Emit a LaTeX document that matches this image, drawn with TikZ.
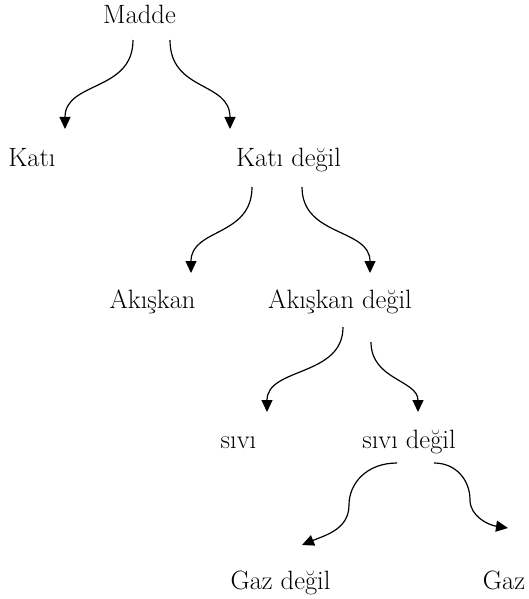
\documentclass[tikz,border=0pt]{standalone}
\usepackage{fontspec}
\usetikzlibrary{arrows.meta,calc}
\begin{document}
\begin{tikzpicture}[x=1pt,y=-1pt,
  lbl/.style={anchor=base,inner sep=0pt,font=\fontsize{26.5}{30}\selectfont},
  conn/.style={line width=1.2pt,-{Triangle[length=12pt,width=11pt]}}]
\useasboundingbox (0,0) rectangle (529,599);
\node[lbl] (madde) at (139.5,23.5) {Madde};
\node[lbl] (kati) at (32,166) {Katı};
\node[lbl] (katid) at (288.5,166) {Katı değil};
\node[lbl] (ak) at (152.5,308) {Akışkan};
\node[lbl] (akd) at (340,308) {Akışkan değil};
\node[lbl] (sivi) at (238.5,448) {sıvı};
\node[lbl] (sivid) at (409,448) {sıvı değil};
\node[lbl] (gazd) at (280.5,589) {Gaz değil};
\node[lbl] (gaz) at (504,589) {Gaz};
% Madde
\draw[conn] ($(madde.base)+(-6.5,16.5)$) .. controls +(0,52) and +(0,-48) .. ($(kati.base)+(33,-37)$);
\draw[conn] ($(madde.base)+(30.5,16.5)$) .. controls +(0,52) and +(0,-48) .. ($(katid.base)+(-58.5,-37)$);
% Kati degil
\draw[conn] ($(katid.base)+(-36.5,21)$) .. controls +(0,50) and +(0,-45) .. ($(ak.base)+(38.5,-35)$);
\draw[conn] ($(katid.base)+(13.5,21)$) .. controls +(0,50) and +(0,-45) .. ($(akd.base)+(30,-35)$);
% Akiskan degil
\draw[conn] ($(akd.base)+(3,19)$) .. controls +(0,50) and +(0,-45) .. ($(sivi.base)+(28.5,-36)$);
\draw[conn] ($(akd.base)+(31,34)$) .. controls +(0,38) and +(0,-32) .. ($(sivid.base)+(9,-36)$);
% sivi degil
\draw[conn] ($(sivid.base)+(-12,15)$) .. controls +(-30,0) and +(0,-22) .. (349,505)
   .. controls +(0,24) and +(24,-10) .. ($(gazd.base)+(21.5,-44)$);
\draw[conn] ($(sivid.base)+(25,15)$) .. controls +(22,0) and +(0,-20) .. (470,500)
   .. controls +(0,16) and +(-20,-3) .. ($(gaz.base)+(4,-61)$);
\end{tikzpicture}
\end{document}
